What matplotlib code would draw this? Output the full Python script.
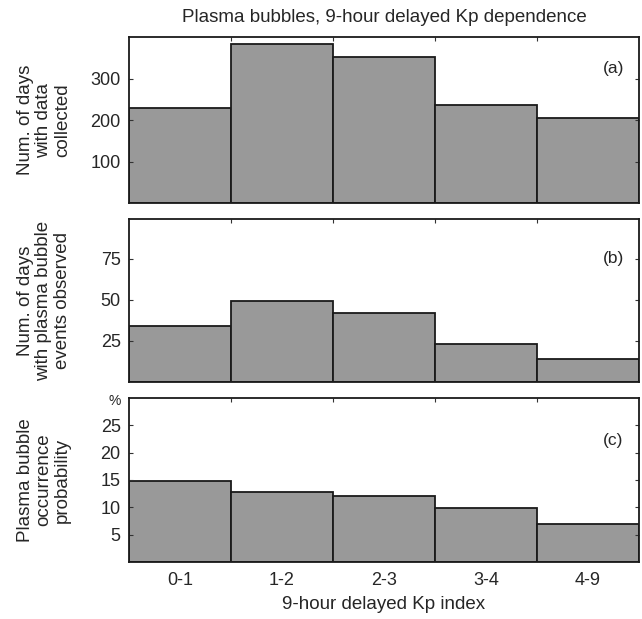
import matplotlib
matplotlib.use("Agg")
import matplotlib.pyplot as plt
import numpy as np

plt.rcParams['font.family'] = ['Liberation Sans', 'DejaVu Sans']

categories = ['0-1', '1-2', '2-3', '3-4', '4-9']
days_collected = [230, 383, 351, 235, 205]
days_bubble = [34, 49, 42, 23, 14]
probability = [14.9, 12.8, 12.0, 9.9, 7.0]

title = 'Plasma bubbles, 9-hour delayed Kp dependence'
xlabel = '9-hour delayed Kp index'
ylabels = ['Num. of days\nwith data\ncollected',
           'Num. of days\nwith plasma bubble\nevents observed',
           'Plasma bubble\noccurrence\nprobability']
panel_tags = ['(a)', '(b)', '(c)']
yticks_list = [[100, 200, 300], [25, 50, 75], [5, 10, 15, 20, 25]]
ylims = [(0, 400), (0, 99), (0, 30)]
series = [days_collected, days_bubble, probability]

W, H = 642, 619
fig = plt.figure(figsize=(W / 100, H / 100), dpi=100)
txt = '#262626'

# axes rectangles in pixel coords: (top, bottom)
rows = [(37, 203), (219, 382), (398, 562)]
left_px, right_px = 129, 639
tag_y = [0.81, 0.755, 0.74]

x = np.arange(len(categories))
for i, (top, bot) in enumerate(rows):
    ax = fig.add_axes([left_px / W, 1 - bot / H, (right_px - left_px) / W, (bot - top) / H])
    ax.bar(x + 0.5, series[i], width=1.0, color='#999999', edgecolor='#1a1a1a', linewidth=1.3)
    ax.set_xlim(0, len(categories))
    ax.set_ylim(*ylims[i])
    ax.set_yticks(yticks_list[i])
    ax.set_yticklabels([str(v) for v in yticks_list[i]])
    ax.set_xticks(np.arange(1, len(categories)))
    ax.set_xticklabels([])
    ax.tick_params(axis='both', direction='in', length=3, width=0.8, colors='#333333',
                   top=True, right=True, bottom=False, labelsize=13, labelcolor=txt, pad=6)
    if i == 2:
        ax.set_xticks(x + 0.5, minor=True)
        ax.set_xticklabels(categories, minor=True)
        ax.tick_params(axis='x', which='minor', length=0, labelsize=13, labelcolor=txt, pad=7)
        ax.set_xlabel(xlabel, fontsize=13.5, color=txt, labelpad=5)
    for s in ax.spines.values():
        s.set_linewidth(1.3)
        s.set_color('#1a1a1a')
    ax.text(0.95, tag_y[i], panel_tags[i], transform=ax.transAxes, ha='center', va='center',
            fontsize=12.5, color=txt)
    fig.text(44 / W, 1 - (top + bot) / 2 / H, ylabels[i], rotation=90, ha='center', va='center',
             fontsize=13.5, color=txt, linespacing=1.1)

fig.text(115 / W, 1 - 401 / H, '%', ha='center', va='center', fontsize=10, color=txt)
fig.text((left_px + right_px) / 2 / W, 1 - 18 / H, title, ha='center', va='center',
         fontsize=13.5, color=txt)

fig.savefig('out.png', dpi=100, facecolor='white')
